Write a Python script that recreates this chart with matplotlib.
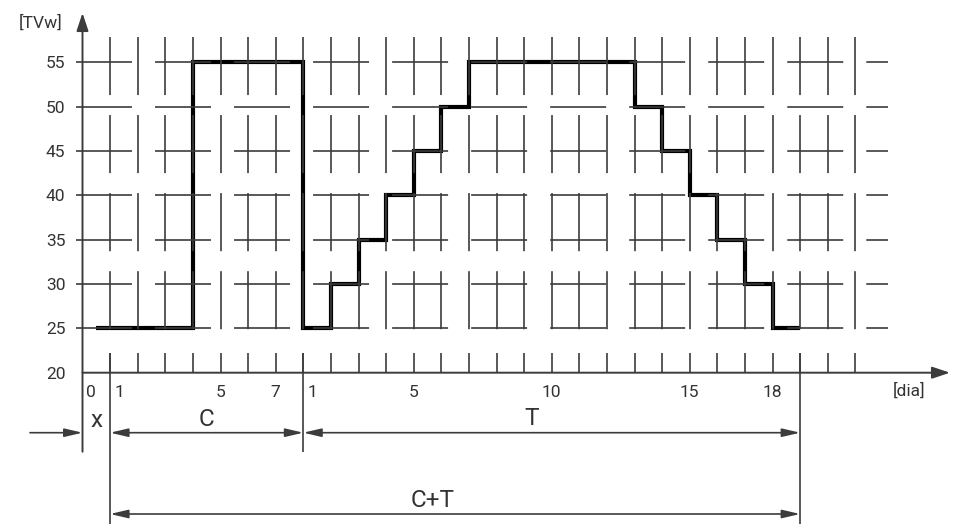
import matplotlib.pyplot as plt

plt.rcParams['font.family'] = ['Roboto', 'DejaVu Sans']
plt.rcParams['lines.scale_dashes'] = False

# length of the phases in days
x_days = 1
c_days = 7
t_days = 18
extra_days = 2

# TVw for each day of each phase
x_tvw = [25]
c_tvw = [25, 25, 25, 55, 55, 55, 55]
t_tvw = [25, 30, 35, 40, 45, 50, 55, 55, 55, 55, 55, 55, 50, 45, 40, 35, 30, 25]

y_ticks = [20, 25, 30, 35, 40, 45, 50, 55]
grid_rows = [25, 30, 35, 40, 45, 50, 55]
c_labels = [1, 5, 7]
t_labels = [1, 5, 10, 15, 18]

# picture layout (pixels of the 959x524 image)
W, H = 959, 524
ox, ux = 82.5, 27.6        # x of day axis origin, px per day
oy, uy = 372.7, 44.34 / 5  # y of TVw=20, px per TVw unit


def dx(px):
    return (px - ox) / ux


def dy(py):
    return 20 + (oy - py) / uy


line_c = '#3c3c3c'
text_c = '#333333'
num_fs = 12.5
big_fs = 17.5

fig = plt.figure(figsize=(W / 100, H / 100), dpi=100)
ax = fig.add_axes([0, 0, 1, 1])
ax.set_xlim(dx(0), dx(W))
ax.set_ylim(dy(H), dy(0))
ax.axis('off')

c_start = x_days
t_start = x_days + c_days
t_end = t_start + t_days
last_tick = t_end + extra_days

# dashed grid
for v in grid_rows:
    ax.plot([dx(76), dx(888)], [v, v], color=line_c, lw=1.2,
            dashes=(40.3, 16.6), solid_capstyle='butt', dash_capstyle='butt')
for u in range(1, last_tick + 1):
    ax.plot([u, u], [dy(37), dy(331)], color=line_c, lw=1.2,
            dashes=(41.8, 14.4), dash_capstyle='butt')

# axes with arrows
ax_arrow = dict(arrowstyle='-|>,head_length=0.6,head_width=0.2',
                mutation_scale=18, color=line_c, lw=1.4, shrinkA=0, shrinkB=0)
ax.annotate('', xy=(dx(950), 20), xytext=(0, 20), arrowprops=ax_arrow)
ax.annotate('', xy=(0, dy(13)), xytext=(0, dy(451.7)), arrowprops=ax_arrow)

# day ticks and phase limits
ax.vlines(range(1, last_tick + 1), 20, dy(353), color=line_c, lw=1.2)
ax.vlines([c_start, t_end], dy(524), dy(353), color=line_c, lw=1.2)
ax.vlines([t_start], dy(451.7), dy(353), color=line_c, lw=1.2)

# TVw steps
edges = [x_days / 2] + [c_start + i for i in range(c_days)] + \
        [t_start + i for i in range(t_days + 1)]
values = x_tvw + c_tvw + t_tvw
ax.stairs(values, edges, baseline=None, color='black', lw=3.0)

# y labels
for v in y_ticks:
    ax.annotate(str(v), xy=(0, v), xytext=(-17, 0), textcoords='offset pixels',
                ha='right', va='center_baseline', fontsize=num_fs, color=text_c)
ax.text(dx(41), dy(23), '[TVw]', ha='center', va='center',
        fontsize=num_fs, color=text_c)

# day labels
day_labels = [(0, '0')]
day_labels += [(c_start + d - 1, str(d)) for d in c_labels]
day_labels += [(t_start + d - 1, str(d)) for d in t_labels]
for u, s in day_labels:
    if u in (0, c_start, t_start):
        ax.annotate(s, xy=(u, 20), xytext=(4, -18), textcoords='offset pixels',
                    ha='left', va='center_baseline', fontsize=num_fs, color=text_c)
    else:
        ax.annotate(s, xy=(u, 20), xytext=(0, -18), textcoords='offset pixels',
                    ha='center', va='center_baseline', fontsize=num_fs, color=text_c)
ax.text(dx(909), dy(391), '[dia]', ha='center', va='center',
        fontsize=num_fs, color=text_c)

# dimension arrows
dim = dict(arrowstyle='<|-|>,head_length=0.6,head_width=0.14',
           mutation_scale=18, color=line_c, lw=1.2, shrinkA=0, shrinkB=0)
one = dict(dim, arrowstyle='-|>,head_length=0.6,head_width=0.14')
row1 = dy(432.7)
row2 = dy(514)
ax.annotate('', xy=(0, row1), xytext=(dx(30), row1), arrowprops=one)
ax.annotate('', xy=(c_start, row1), xytext=(t_start, row1), arrowprops=dim)
ax.annotate('', xy=(t_start, row1), xytext=(t_end, row1), arrowprops=dim)
ax.annotate('', xy=(c_start, row2), xytext=(t_end, row2), arrowprops=dim)

ax.text(x_days / 2, dy(418), 'x', ha='center', va='center_baseline',
        fontsize=big_fs, color=text_c)
ax.text((c_start + t_start) / 2, dy(417), 'C', ha='center', va='center_baseline',
        fontsize=big_fs, color=text_c)
ax.text(dx(532), dy(416), 'T', ha='center', va='center_baseline',
        fontsize=big_fs, color=text_c)
ax.text(dx(433), dy(498), 'C+T', ha='center', va='center_baseline',
        fontsize=big_fs, color=text_c)

fig.savefig('out.png', dpi=100, facecolor='white')
